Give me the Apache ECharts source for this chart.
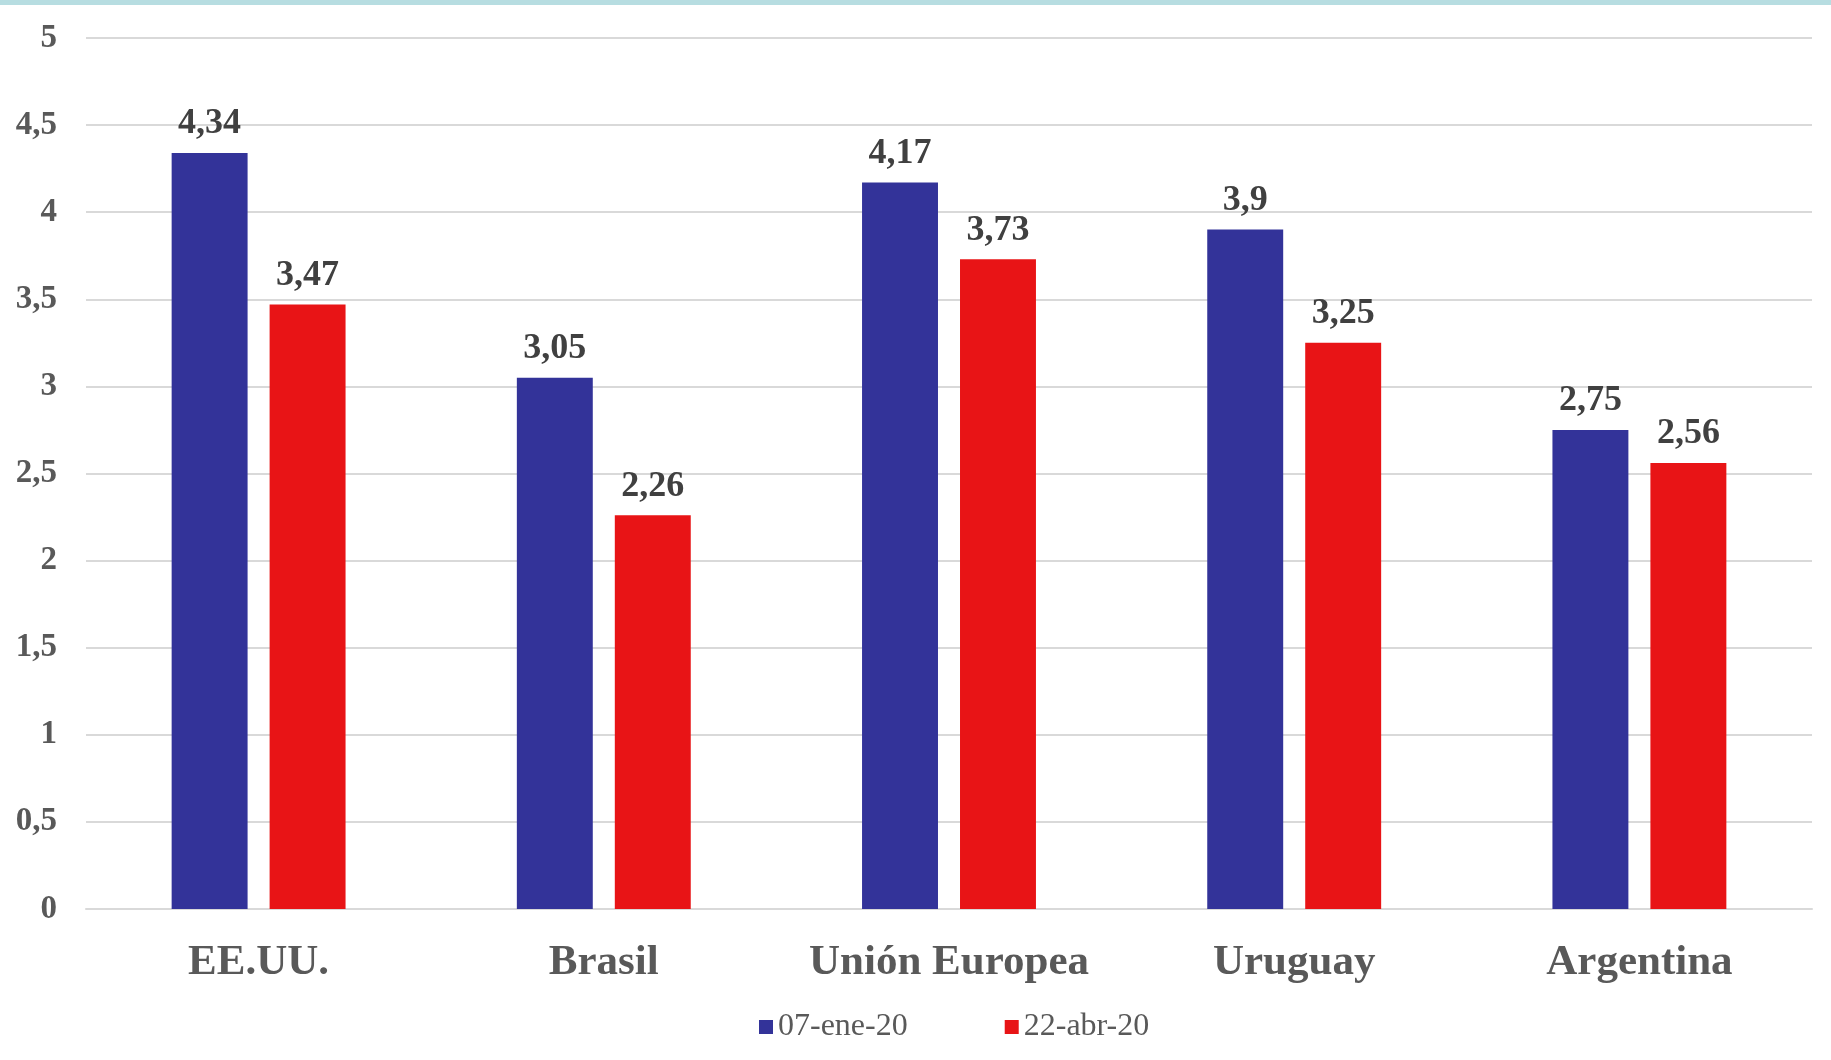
<!DOCTYPE html>
<html><head><meta charset="utf-8">
<script src="https://cdn.jsdelivr.net/npm/echarts@6/dist/echarts.min.js"></script>
<style>html,body{margin:0;padding:0;background:#fff}#c{width:1831px;height:1060px}</style>
</head><body><div id="c"></div>
<script>
const categories = ['EE.UU.', 'Brasil', 'Unión Europea', 'Uruguay', 'Argentina'];
const seriesNames = ['07-ene-20', '22-abr-20'];
const valuesJan = [4.34, 3.05, 4.17, 3.9, 2.75];
const valuesApr = [3.47, 2.26, 3.73, 3.25, 2.56];

const fmt = v => String(v).replace('.', ',');
const chart = echarts.init(document.getElementById('c'));
const labelCfg = {
  show: true, position: 'top', distance: 11,
  fontFamily: 'Liberation Serif', fontWeight: 'bold', fontSize: 36, color: '#404040',
  formatter: p => fmt(p.value)
};
chart.setOption({
  animation: false,
  graphic: [{ type: 'rect', shape: { x: 0, y: 0, width: 1831, height: 5 }, style: { fill: '#b7dde1' } }],
  grid: { left: 86, right: 19, top: 38, bottom: 151 },
  legend: {
    bottom: 12, left: 754, itemWidth: 14, itemHeight: 14, itemGap: 97,
    icon: 'rect',
    textStyle: { fontFamily: 'Liberation Serif', fontSize: 32, color: '#595959' },
    data: seriesNames
  },
  xAxis: {
    type: 'category', data: categories,
    axisLine: { lineStyle: { color: '#d9d9d9', width: 2 } },
    axisTick: { show: false },
    axisLabel: { interval: 0, margin: 32, fontFamily: 'Liberation Serif', fontWeight: 'bold', fontSize: 43, color: '#595959' }
  },
  yAxis: {
    type: 'value', min: 0, max: 5, interval: 0.5,
    axisLine: { show: false }, axisTick: { show: false },
    splitLine: { lineStyle: { color: '#d9d9d9', width: 2 } },
    axisLabel: { margin: 29, fontFamily: 'Liberation Serif', fontWeight: 'bold', fontSize: 33, color: '#595959', formatter: v => fmt(v) }
  },
  series: [
    { name: seriesNames[0], type: 'bar', data: valuesJan, barWidth: '22%', barGap: '29%', itemStyle: { color: '#333399' }, label: labelCfg },
    { name: seriesNames[1], type: 'bar', data: valuesApr, barWidth: '22%', itemStyle: { color: '#e81416' }, label: labelCfg }
  ]
});
</script></body></html>
